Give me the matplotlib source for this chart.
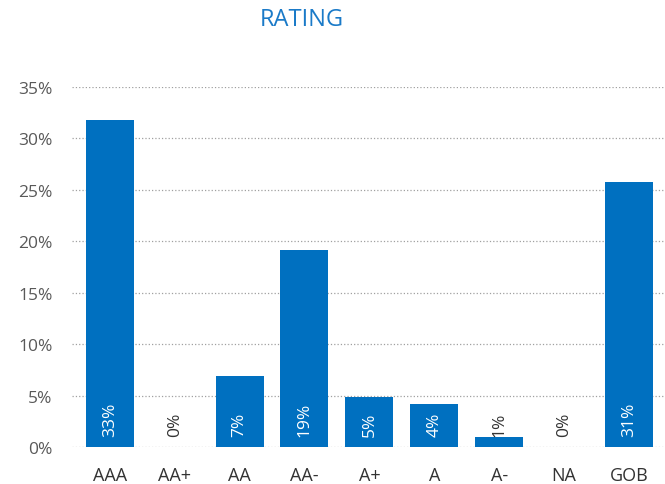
import matplotlib.pyplot as plt
from matplotlib.ticker import PercentFormatter

categories = ['AAA', 'AA+', 'AA', 'AA-', 'A+', 'A', 'A-', 'NA', 'GOB']
values = [31.8, 0.0, 6.9, 19.2, 4.9, 4.2, 1.0, 0.0, 25.8]
labels = ['33%', '0%', '7%', '19%', '5%', '4%', '1%', '0%', '31%']
label_on_bar = [True, False, True, True, True, True, False, False, True]

bar_color = '#0070c0'
text_gray = '#595959'

plt.rcParams['font.family'] = ['Open Sans', 'DejaVu Sans']

fig = plt.figure(figsize=(6.65, 4.85), dpi=100)
ax = fig.add_axes([0.108, 0.0763, 0.892, 0.7423])

x = list(range(len(categories)))
ax.bar(x, values, width=0.74, color=bar_color, zorder=2)

for xi, lab, inside in zip(x, labels, label_on_bar):
    ax.text(xi, 1.1, lab, rotation=90, ha='center', va='bottom',
            fontsize=12.5, color='white' if inside else '#333333', zorder=3)

ax.set_ylim(0, 35)
ax.set_xlim(-0.585, 8.555)
ax.set_yticks(range(0, 36, 5))
ax.yaxis.set_major_formatter(PercentFormatter(decimals=0))
ax.set_xticks(x)
ax.set_xticklabels(categories)
ax.grid(axis='y', linestyle=':', color='#a0a0a0', linewidth=0.9, zorder=0)
ax.tick_params(length=0, labelsize=12.5, colors=text_gray, pad=14)
ax.tick_params(axis='x', colors='#333333', labelsize=13, pad=14)
for s in ax.spines.values():
    s.set_visible(False)

fig.text(0.454, 0.958, 'RATING', ha='center', va='center', fontsize=17, color='#1a7ac8')

fig.savefig('out.png', dpi=100)
